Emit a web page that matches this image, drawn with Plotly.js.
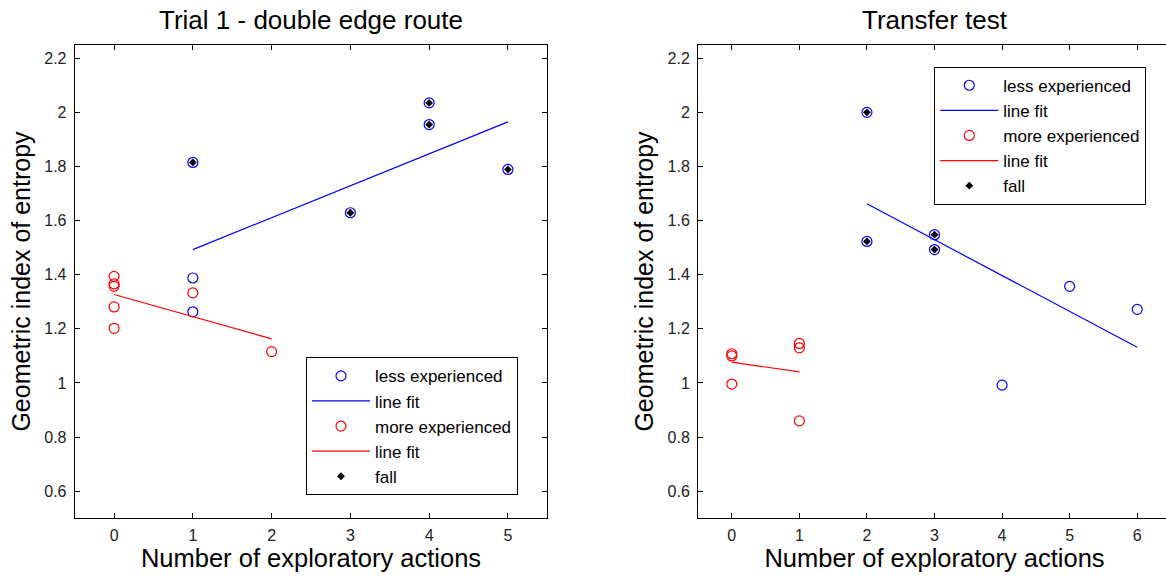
<!DOCTYPE html>
<html>
<head>
<meta charset="utf-8">
<script src="https://cdn.plot.ly/plotly-3.0.1.min.js"></script>
<style>
  html, body { margin: 0; padding: 0; background: #fff; overflow: hidden; }
  #chart { width: 1175px; height: 578px; }
</style>
</head>
<body>
<div id="chart"></div>
<script>
// ---- Trial 1 - double edge route ----
const trialLessX   = [1, 1, 1, 3, 4, 4, 5];
const trialLessY   = [1.815, 1.388, 1.263, 1.629, 2.035, 1.955, 1.789];
const trialLessFall = [1, 0, 0, 1, 1, 1, 1];
const trialMoreX   = [0, 0, 0, 0, 0, 1, 2];
const trialMoreY   = [1.394, 1.366, 1.357, 1.281, 1.202, 1.333, 1.116];
const trialLessFitX = [1, 5];
const trialLessFitY = [1.493, 1.965];
const trialMoreFitX = [0, 2];
const trialMoreFitY = [1.327, 1.163];

// ---- Transfer test ----
const transferLessX   = [2, 2, 3, 3, 4, 5, 6];
const transferLessY   = [2.0, 1.523, 1.548, 1.493, 0.992, 1.357, 1.272];
const transferLessFall = [1, 1, 1, 1, 0, 0, 0];
const transferMoreX   = [0, 0, 0, 1, 1, 1];
const transferMoreY   = [1.108, 1.100, 0.996, 1.146, 1.130, 0.860];
const transferLessFitX = [2, 6];
const transferLessFitY = [1.662, 1.132];
const transferMoreFitX = [0, 1];
const transferMoreFitY = [1.077, 1.041];

const panelTitles = ['Trial 1 - double edge route', 'Transfer test'];
const xAxisTitle = 'Number of exploratory actions';
const yAxisTitle = 'Geometric index of entropy';
const legendNames = ['less experienced', 'line fit', 'more experienced', 'line fit', 'fall'];

const yTickVals = [0.6, 0.8, 1, 1.2, 1.4, 1.6, 1.8, 2, 2.2];
const yTickText = ['0.6', '0.8', '1', '1.2', '1.4', '1.6', '1.8', '2', '2.2'];

// ---- page geometry (pixels) ----
const W = 1175, H = 578;
const FONT = 'Liberation Sans, Arial, Helvetica, sans-serif';
const BLUE = '#0000ff', RED = '#ff0000';

function pick(arr, flags) { return arr.filter((_, i) => flags[i]); }

function panelTraces(xa, ya, legendId, lx, ly, lflags, mx, my, lfx, lfy, mfx, mfy) {
  const common = { xaxis: xa, yaxis: ya, legend: legendId, hoverinfo: 'skip' };
  return [
    Object.assign({ type: 'scatter', mode: 'markers', x: lx, y: ly, name: legendNames[0],
      marker: { symbol: 'circle-open', size: 10, color: BLUE, line: { width: 1.2, color: BLUE } } }, common),
    Object.assign({ type: 'scatter', mode: 'lines', x: lfx, y: lfy, name: legendNames[1],
      line: { color: BLUE, width: 1.2 } }, common),
    Object.assign({ type: 'scatter', mode: 'markers', x: mx, y: my, name: legendNames[2],
      marker: { symbol: 'circle-open', size: 10, color: RED, line: { width: 1.2, color: RED } } }, common),
    Object.assign({ type: 'scatter', mode: 'lines', x: mfx, y: mfy, name: legendNames[3],
      line: { color: RED, width: 1.2 } }, common),
    Object.assign({ type: 'scatter', mode: 'markers', x: pick(lx, lflags), y: pick(ly, lflags), name: legendNames[4],
      marker: { symbol: 'diamond', size: 6, color: '#000000' } }, common)
  ];
}

const data = [].concat(
  panelTraces('x', 'y', 'legend', trialLessX, trialLessY, trialLessFall, trialMoreX, trialMoreY,
              trialLessFitX, trialLessFitY, trialMoreFitX, trialMoreFitY),
  panelTraces('x2', 'y2', 'legend2', transferLessX, transferLessY, transferLessFall, transferMoreX, transferMoreY,
              transferLessFitX, transferLessFitY, transferMoreFitX, transferMoreFitY)
);

// plot boxes in pixels
const box1 = { l: 74.7, r: 547.3, t: 44.7, b: 518.3 };
const box2 = { l: 698, r: 1171, t: 44.7, b: 518.3 };

function xaxisDef(box, range, tickvals, anchor) {
  return {
    domain: [box.l / W, box.r / W], anchor: anchor,
    range: range, tickvals: tickvals, ticktext: tickvals.map(String),
    showgrid: false, zeroline: false, showline: true, linecolor: '#000', linewidth: 1,
    mirror: 'ticks', ticks: 'inside', ticklen: 5, tickcolor: '#000', tickwidth: 1,
    tickfont: { family: FONT, size: 16, color: '#222' }, ticklabelstandoff: 2,
    title: { text: xAxisTitle, font: { family: FONT, size: 25.5, color: '#000' }, standoff: 6 },
    automargin: false, fixedrange: true
  };
}
function yaxisDef(box, anchor) {
  return {
    domain: [1 - box.b / H, 1 - box.t / H], anchor: anchor,
    range: [0.5, 2.25], tickvals: yTickVals, ticktext: yTickText,
    showgrid: false, zeroline: false, showline: true, linecolor: '#000', linewidth: 1,
    mirror: 'ticks', ticks: 'inside', ticklen: 5, tickcolor: '#000', tickwidth: 1,
    tickfont: { family: FONT, size: 16, color: '#222' }, ticklabelstandoff: 4,
    title: { text: yAxisTitle, font: { family: FONT, size: 25, color: '#000' }, standoff: 6 },
    automargin: false, fixedrange: true
  };
}

function legendDef(xpx, ypx) {
  return {
    x: xpx / W, y: 1 - ypx / H, xanchor: 'left', yanchor: 'top',
    bgcolor: '#fff', bordercolor: '#000', borderwidth: 1,
    font: { family: FONT, size: 17, color: '#000' },
    itemwidth: 58, tracegroupgap: 0, traceorder: 'normal', itemclick: false, itemdoubleclick: false
  };
}

const layout = {
  width: W, height: H,
  margin: { l: 0, r: 0, t: 0, b: 0, pad: 0 },
  paper_bgcolor: '#fff', plot_bgcolor: '#fff',
  font: { family: FONT, color: '#000' },
  showlegend: true,
  xaxis: xaxisDef(box1, [-0.5, 5.5], [0, 1, 2, 3, 4, 5], 'y'),
  yaxis: yaxisDef(box1, 'x'),
  xaxis2: xaxisDef(box2, [-0.5, 6.5], [0, 1, 2, 3, 4, 5, 6], 'y2'),
  yaxis2: yaxisDef(box2, 'x2'),
  legend: legendDef(306, 357.3),
  legend2: legendDef(934.3, 66.7),
  annotations: [
    { text: panelTitles[0], xref: 'paper', yref: 'paper', x: (box1.l + box1.r) / 2 / W, y: 1 - 20 / H,
      xanchor: 'center', yanchor: 'middle', showarrow: false, font: { family: FONT, size: 26, color: '#000' } },
    { text: panelTitles[1], xref: 'paper', yref: 'paper', x: (box2.l + box2.r) / 2 / W, y: 1 - 20 / H,
      xanchor: 'center', yanchor: 'middle', showarrow: false, font: { family: FONT, size: 26, color: '#000' } }
  ]
};

Plotly.newPlot('chart', data, layout, { displayModeBar: false, responsive: false, staticPlot: true });
</script>
</body>
</html>
